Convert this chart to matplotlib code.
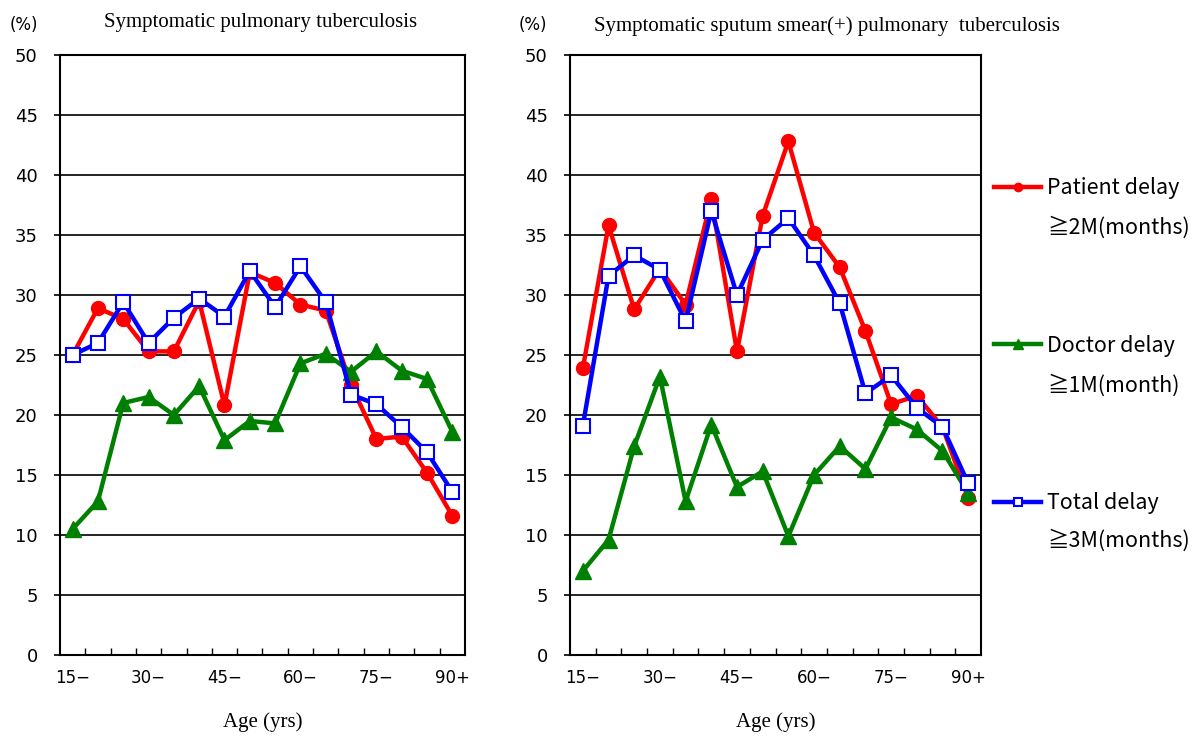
import matplotlib
matplotlib.use("Agg")
import matplotlib.pyplot as plt
import numpy as np

# age groups (5-year bands)
ages = ["15-", "20-", "25-", "30-", "35-", "40-", "45-", "50-",
        "55-", "60-", "65-", "70-", "75-", "80-", "85-", "90+"]
tick_labels = ["15\u2212", "30\u2212", "45\u2212", "60\u2212", "75\u2212", "90+"]

# left: symptomatic pulmonary TB
patient_all = [25.0, 28.9, 28.0, 25.3, 25.3, 29.5, 20.8, 31.9,
               31.0, 29.2, 28.7, 22.5, 18.0, 18.2, 15.2, 11.6]
doctor_all = [10.5, 12.8, 21.0, 21.5, 20.0, 22.4, 17.9, 19.5,
              19.3, 24.3, 25.1, 23.6, 25.3, 23.7, 23.0, 18.6]
total_all = [25.0, 26.0, 29.4, 26.0, 28.1, 29.7, 28.2, 32.0,
             29.0, 32.4, 29.4, 21.7, 20.9, 19.0, 16.9, 13.6]

# right: symptomatic sputum smear(+) pulmonary TB
patient_sm = [23.9, 35.8, 28.8, 32.2, 29.2, 38.0, 25.3, 36.6,
              42.8, 35.2, 32.3, 27.0, 20.9, 21.6, 19.0, 13.1]
doctor_sm = [7.0, 9.6, 17.4, 23.2, 12.8, 19.2, 14.0, 15.3,
             9.9, 15.0, 17.4, 15.5, 19.8, 18.8, 17.0, 13.5]
total_sm = [19.1, 31.6, 33.3, 32.1, 27.8, 37.0, 30.0, 34.6,
            36.4, 33.3, 29.3, 21.8, 23.3, 20.6, 19.0, 14.3]

titles = ["Symptomatic pulmonary tuberculosis",
          "Symptomatic sputum smear(+) pulmonary  tuberculosis"]
legend_names = ["Patient delay", "Doctor delay", "Total delay"]
legend_limits = ["\u22672M(months)", "\u22671M(month)", "\u22673M(months)"]

serif = ["Liberation Serif", "DejaVu Serif"]
narrow = ["Liberation Sans Narrow", "DejaVu Sans"]
sans = ["DejaVu Sans", "Noto Sans CJK JP"]
jp = ["Noto Sans CJK JP", "DejaVu Sans"]

fig = plt.figure(figsize=(11.99, 7.38), dpi=100)
ax1 = fig.add_axes([0.050, 0.1125, 0.3378, 0.813])
ax2 = fig.add_axes([0.4754, 0.1125, 0.3428, 0.813])

x = np.arange(len(ages))
handles = []
for ax, p, d, t in [(ax1, patient_all, doctor_all, total_all),
                    (ax2, patient_sm, doctor_sm, total_sm)]:
    hp, = ax.plot(x, p, color="red", lw=3.2, marker="o", ms=10, zorder=3)
    hd, = ax.plot(x, d, color="#008000", lw=3.2, marker="^", ms=11, zorder=4)
    ht, = ax.plot(x, t, color="blue", lw=3.2, marker="s", ms=10,
                  mfc="white", mec="blue", mew=1.5, zorder=5)
    handles = [hp, hd, ht]

    ax.set_xlim(-0.5, 15.5)
    ax.set_ylim(0, 50)
    ax.set_yticks(range(0, 51, 5))
    for yv in range(5, 50, 5):
        ax.axhline(yv, color="black", lw=1.2, zorder=1)
    for s in ax.spines.values():
        s.set_linewidth(1.5)

    ax.set_xticks(x[::3])
    ax.set_xticklabels(tick_labels, family=narrow, fontsize=12)
    ax.set_xticks(np.arange(0.5, 15.5, 1), minor=True)
    ax.tick_params(axis="x", which="major", length=0, pad=10)
    ax.tick_params(axis="x", which="minor", direction="in", length=5, width=1)
    ax.tick_params(axis="y", length=4, width=1.2, labelsize=13, pad=12)
    for lab in ax.get_yticklabels():
        lab.set_family(sans)

    ax.set_xlabel("Age (yrs)", family=serif, fontsize=15, labelpad=18)
    ax.text(-0.125, 1.035, "(%)", transform=ax.transAxes, ha="left", va="bottom",
            family=sans, fontsize=12)

fig.text(0.217, 0.970, titles[0], ha="center", va="center", family=serif, fontsize=15)
fig.text(0.690, 0.964, titles[1], ha="center", va="center", family=serif, fontsize=15)

fig.legend(handles, legend_names, loc="upper left", bbox_to_anchor=(0.829, 0.760),
           frameon=False, prop={"family": jp, "size": 15.5}, handlelength=2.2,
           labelspacing=6.3, handletextpad=0.27, markerscale=0.6,
           borderpad=0, borderaxespad=0)
for txt, yy in zip(legend_limits, [0.692, 0.478, 0.267]):
    fig.text(0.8735, yy, txt, ha="left", va="center", family=jp, fontsize=15.5)

fig.savefig("out.png", dpi=100)
